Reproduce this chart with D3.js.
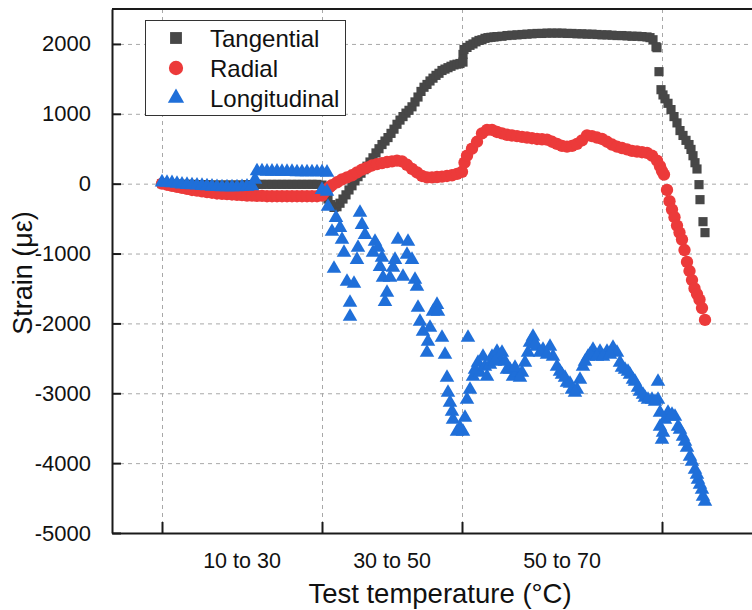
<!DOCTYPE html>
<html>
<head>
<meta charset="utf-8">
<script src="https://cdn.jsdelivr.net/npm/d3@7"></script>
<style>
  html, body { margin: 0; padding: 0; background: #fff; }
  svg { display: block; }
  text { font-family: "Liberation Sans", Arial, sans-serif; fill: #111; }
</style>
</head>
<body>
<svg id="chart" width="752" height="610"></svg>
<script>
// ---------------- DATA ----------------
const seriesNames = ["Tangential", "Radial", "Longitudinal"];
const xTickValues = [0, 32, 60, 100];
const xCategoryLabels = ["10 to 30", "30 to 50", "50 to 70"];
const xCategoryCenters = [16, 46, 80];
const yTickValues = [-5000, -4000, -3000, -2000, -1000, 0, 1000, 2000];
const xTitle = "Test temperature (°C)";
const yTitle = "Strain (με)";

const tangential = [
  [0,0],[1,0],[2,-5],[3,-5],[4,-10],[5,-10],[6,-10],[7,-15],[8,-15],[9,-15],[10,-20],[11,-20],[12,-20],
  [13,-20],[14,-20],[15,-20],[16,-20],[17,-15],[18,-15],[19,-10],[20,-10],[21,-10],[22,-10],[23,-10],
  [24,-10],[25,-10],[26,-10],[27,-10],[28,-10],[29,-10],[30,-10],[31,-10],[32,-20],
  [32.6,-120],[33.2,-220],[33.8,-300],[34.4,-340],[35,-330],[35.6,-280],[36.2,-220],[36.8,-160],
  [37.4,-90],[38,-30],[38.6,40],[39.2,100],[39.8,150],[40.4,200],[41,250],[41.6,310],[42.2,370],
  [42.8,440],[43.4,500],[44,560],[44.6,610],[45.2,660],[45.8,720],[46.4,780],[47,850],[47.6,910],
  [48.2,960],[48.8,1010],[49.4,1050],[50,1100],[50.6,1170],[51.2,1240],[51.8,1320],[52.4,1380],
  [53,1420],[53.6,1470],[54.2,1510],[54.8,1550],[55.4,1580],[56,1620],[56.6,1640],[57.2,1660],
  [57.8,1680],[58.4,1700],[59,1710],[59.6,1720],[60.2,1740],[60.2,1850],[60.4,1920],[61,1950],
  [61.6,1980],[62.2,2000],[62.8,2030],[63.4,2050],[64,2060],[64.6,2080],[65.2,2090],[65.8,2095],
  [66.4,2100],[67,2105],[68,2110],[69,2120],[70,2125],[71,2130],[72,2135],[73,2140],[74,2145],
  [75,2150],[76,2150],[77,2155],[78,2155],[79,2155],[80,2155],[81,2150],[82,2150],[83,2145],
  [84,2145],[85,2140],[86,2140],[87,2135],[88,2130],[89,2130],[90,2125],[91,2120],[92,2120],
  [93,2115],[94,2110],[95,2110],[96,2105],[97,2100],[97.6,2090],[98.2,2060],[98.8,1960],
  [99,1946],[99.4,1603],[99.8,1345],[100.2,1270],[100.6,1215],[101.2,1150],[101.8,1060],
  [102.4,960],[103,870],[103.6,760],[104.2,690],[104.8,620],[105.4,560],[105.8,490],[106.2,400],
  [106.6,300],[107,210],[107.4,-14],[107.6,-229],[108.2,-544],[108.6,-701]
];

const radial = [
  [0,0],[1,-15],[2,-30],[3,-45],[4,-60],[5,-75],[6,-90],[7,-100],[8,-110],[9,-120],[10,-130],
  [11,-140],[12,-145],[13,-150],[14,-155],[15,-160],[16,-165],[17,-170],[18,-170],[19,-175],
  [20,-175],[21,-180],[22,-180],[23,-180],[24,-180],[25,-180],[26,-180],[27,-180],[28,-180],
  [29,-180],[30,-180],[31,-180],[32,-170],
  [32.5,-120],[33,-80],[33.5,-50],[34,-20],[35,20],[36,60],[37,90],[38,120],[39,160],[40,200],
  [41,230],[42,260],[43,280],[44,295],[45,310],[46,320],[47,330],[48,320],[49,270],[50,210],
  [51,160],[52,110],[53,90],[54,90],[55,95],[56,100],[57,110],[58,120],[59,140],[60,170],
  [60.5,300],[61,400],[62,500],[63,600],[64,720],[65,770],[66,770],[67,740],[68,720],[69,700],
  [70,690],[71,680],[72,670],[73,660],[74,650],[75,640],[76,635],[77,630],[78,600],[79,570],
  [80,540],[81,530],[82,540],[83,570],[84,620],[85,690],[86,680],[87,660],[88,640],[89,600],
  [90,560],[91,530],[92,510],[93,490],[94,470],[95,460],[96,450],[97,440],[98,400],[99,330],
  [99.6,250],[100,180],[100.4,130],
  [101,-90],[101.5,-250],[102,-370],[102.5,-480],[103,-600],[103.5,-700],[104,-800],[104.5,-950],
  [105,-1120],[105.5,-1250],[106,-1380],[106.5,-1500],[107,-1580],[107.5,-1660],[108,-1780],
  [108.6,-1950]
];

const longitudinal = [
  [0,20],[1,15],[2,10],[3,0],[4,-10],[5,-15],[6,-20],[7,-25],[8,-30],[9,-35],[10,-40],[11,-45],
  [12,-50],[13,-50],[14,-50],[15,-50],[16,-45],[17,-40],[18,-35],[18.6,60],[19,180],[20,180],
  [21,175],[22,175],[23,175],[24,170],[25,170],[26,170],[27,165],[28,165],[29,165],[30,165],
  [31,165],[32,165],[33,160],
  [32,-86],[33,-114],[33.2,-329],[34.8,-487],[35.6,-630],[34,-687],[36,-801],[36.4,-987],
  [34.4,-1216],[37,-1402],[38.4,-1431],[37.6,-1703],[37.6,-1903],[39.6,-415],[40,-587],
  [40.6,-730],[39.2,-916],[39,-1088],[42.6,-830],[42.2,-987],[43.2,-916],[43.6,-1188],
  [44.2,-1345],[45,-1560],[44.6,-1689],[47.2,-801],[49.2,-830],[49,-1016],[46.2,-1202],
  [48.2,-1331],[45.6,-1345],[46.6,-1088],[50,-1088],[44,-1059],[50.6,-1374],[51,-1474],
  [51.2,-1774],[55,-1732],[54.2,-1832],[55.2,-1832],[51.6,-1975],[52.2,-2118],[53.6,-2061],
  [53.2,-2261],[56,-2204],[53,-2418],[56.6,-2447],[57,-2776],[57.2,-2991],[57.6,-3134],
  [58,-3263],[58.2,-3377],[59,-3549],[60.2,-3549],[59.6,-3492],[60.6,-3349],[61,-3091],
  [61.6,-2948],[61.2,-2204],[62.2,-2762],[63.2,-2561],[64.2,-2476],[63.6,-2705],[65,-2762],
  [66,-2476],[67,-2404],[67.6,-2519],[68,-2418],[69,-2662],[69.6,-2662],[70.2,-2762],[71,-2705],
  [72,-2705],[72.6,-2561],[73.2,-2418],[73.6,-2275],[74.2,-2189],[75,-2333],[76.2,-2375],
  [77.6,-2333],[78.2,-2476],[79,-2619],[80,-2733],[81,-2848],[82,-2948],[83,-2948],[83.6,-2805],
  [84.2,-2619],[85.2,-2476],[86.2,-2375],[87.6,-2404],[89,-2404],[90.2,-2347],[91,-2418],
  [91.6,-2561],[92.6,-2662],[93.6,-2733],[94.6,-2833],[95.6,-2976],[96.6,-3062],[98,-3091],
  [99.2,-3091],[99.2,-2833],[99.6,-3477],[100,-3663],[100.2,-3563],[101.6,-3334],[102.6,-3334],
  [103.2,-3477],[104.2,-3620],[105,-3778],[105.6,-3907],[106.6,-4093],[107.2,-4236],[108,-4379],
  [108.6,-4551],
  [62.6,-2662],[64.6,-2619],[65.6,-2590],[66.6,-2547],[68.6,-2547],[70.6,-2633],[71.6,-2776],
  [74.6,-2304],[75.6,-2418],[77,-2447],[79.6,-2690],[80.6,-2776],[81.6,-2862],[82.6,-2991],
  [84.6,-2547],[85.6,-2447],[87,-2476],[88.2,-2476],[89.6,-2447],[92,-2633],[93.2,-2690],
  [94.2,-2805],[95.2,-2919],[96.2,-3019],[97.2,-3091],[98.6,-3120],[100.6,-3377],[101.2,-3277],
  [102,-3306],[103.6,-3520],[104.6,-3692],[106,-3978],[107,-4165],[107.6,-4308],[108.2,-4479],
  [99.6,-3277]
];

// ---------------- CHART ----------------
const svg = d3.select("#chart");
const W = 752, H = 610;
const plot = { left: 112, top: 9, right: 762, bottom: 533 };

const x = d3.scaleLinear().domain([-10, 120]).range([plot.left, plot.right]);
const y = d3.scaleLinear().domain([-5000, 2500]).range([plot.bottom, plot.top]);

const colors = { Tangential: "#474747", Radial: "#ec3a3a", Longitudinal: "#1f6fd9" };

// gridlines
const grid = svg.append("g").attr("stroke", "#a8a8a8").attr("stroke-width", 1)
  .attr("stroke-dasharray", "4,4");
grid.selectAll("line.h").data(yTickValues.filter(v => v > -5000)).join("line")
  .attr("x1", plot.left).attr("x2", W).attr("y1", d => y(d) + 0.5).attr("y2", d => y(d) + 0.5);
grid.selectAll("line.v").data(xTickValues).join("line")
  .attr("y1", plot.top).attr("y2", plot.bottom).attr("x1", d => x(d) + 0.5).attr("x2", d => x(d) + 0.5);

// markers
const sq = d3.symbol().type(d3.symbolSquare).size(84);
const circ = d3.symbol().type(d3.symbolCircle).size(120);
const tri = d3.symbol().type(d3.symbolTriangle).size(92);

svg.append("g").selectAll("path").data(tangential).join("path")
  .attr("d", sq).attr("fill", colors.Tangential)
  .attr("transform", d => `translate(${x(d[0])},${y(d[1])})`);
svg.append("g").selectAll("path").data(radial).join("path")
  .attr("d", circ).attr("fill", colors.Radial)
  .attr("transform", d => `translate(${x(d[0])},${y(d[1])})`);
svg.append("g").selectAll("path").data(longitudinal).join("path")
  .attr("d", tri).attr("fill", colors.Longitudinal)
  .attr("transform", d => `translate(${x(d[0])},${y(d[1])})`);

// axes
const yAxis = d3.axisLeft(y).tickValues(yTickValues).tickSizeInner(-9).tickSizeOuter(0)
  .tickPadding(21).tickFormat(d => String(d));
const gy = svg.append("g").attr("transform", `translate(${plot.left},0)`).call(yAxis);
gy.select(".domain").attr("stroke", "#1a1a1a").attr("stroke-width", 2);
gy.selectAll(".tick line").attr("stroke", "#1a1a1a").attr("stroke-width", 2);
gy.selectAll(".tick text").attr("font-size", 22).attr("font-family", "Liberation Sans, Arial, sans-serif")
  .attr("fill", "#111");

const xAxis = d3.axisBottom(x).tickValues(xTickValues).tickSizeInner(-11).tickSizeOuter(0).tickFormat("");
const gx = svg.append("g").attr("transform", `translate(0,${plot.bottom})`).call(xAxis);
gx.select(".domain").attr("stroke", "#1a1a1a").attr("stroke-width", 2);
gx.selectAll(".tick line").attr("stroke", "#1a1a1a").attr("stroke-width", 2);

// top border
svg.append("line").attr("x1", plot.left).attr("x2", W).attr("y1", plot.top).attr("y2", plot.top)
  .attr("stroke", "#1a1a1a").attr("stroke-width", 2);

// category labels
svg.append("g").selectAll("text").data(xCategoryLabels).join("text")
  .attr("x", (d, i) => x(xCategoryCenters[i])).attr("y", 568)
  .attr("text-anchor", "middle").attr("font-size", 21.5).text(d => d);

// axis titles
svg.append("text").attr("x", 440).attr("y", 603)
  .attr("text-anchor", "middle").attr("font-size", 27.5).text(xTitle);
svg.append("text").attr("transform", "translate(32,273) rotate(-90)")
  .attr("text-anchor", "middle").attr("font-size", 27).text(yTitle);

// legend
const lg = svg.append("g");
lg.append("rect").attr("x", 145.5).attr("y", 20.5).attr("width", 200).attr("height", 95)
  .attr("fill", "#fff").attr("stroke", "#333").attr("stroke-width", 1);
const legendSyms = [
  d3.symbol().type(d3.symbolSquare).size(140),
  d3.symbol().type(d3.symbolCircle).size(160),
  d3.symbol().type(d3.symbolTriangle).size(115)
];
seriesNames.forEach((name, i) => {
  const cy = 38 + i * 30;
  lg.append("path").attr("d", legendSyms[i]()).attr("fill", colors[name])
    .attr("transform", `translate(176,${cy})`);
  lg.append("text").attr("x", 210).attr("y", cy + 8.5).attr("font-size", 24).text(name);
});
</script>
</body>
</html>
